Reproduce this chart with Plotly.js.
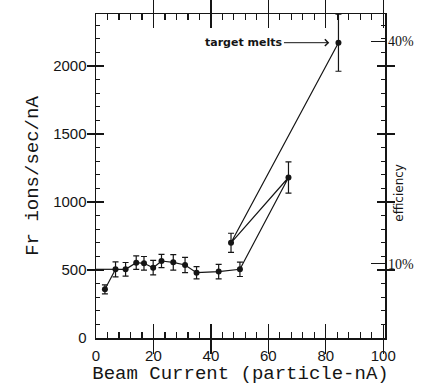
<!DOCTYPE html>
<html>
<head>
<meta charset="utf-8">
<script src="https://cdn.plot.ly/plotly-3.0.1.min.js"></script>
<style>html,body{margin:0;padding:0;background:#fff;}#chart{width:425px;height:391px;}</style>
</head>
<body>
<div id="chart"></div>
<script>
// Beam current (particle-nA), in the order the points are joined
const beamCurrent = [3.1, 6.8, 10.3, 14.0, 16.7, 19.9, 22.8, 26.9, 31.0, 35.0, 42.7, 50.1, 67.0, 47.0, 84.4];
// Fr ions/sec/nA
const frRate      = [358, 505, 505, 554, 549, 517, 566, 556, 537, 480, 488, 505, 1180, 700, 2171];
// error bar half-heights
const frError     = [33, 55, 50, 50, 50, 53, 49, 57, 56, 45, 53, 53, 115, 70, 210];
// short guide segment at the 500 level
const guideX = [0, 6.8];
const guideY = [505, 505];
// efficiency (right) axis
const effTicks = [10, 40];
const effLabels = ['10%', '40%'];

const ink = '#151515';
const xRange = [0, 100.6];
const yRange = [0, 2382];
const hidden = {type: 'scatter', mode: 'markers', marker: {opacity: 0}, hoverinfo: 'skip', showlegend: false};
const traces = [
  {x: guideX, y: guideY, type: 'scatter', mode: 'lines', line: {color: ink, width: 1.2}, hoverinfo: 'skip', showlegend: false},
  {x: beamCurrent, y: frRate, type: 'scatter', mode: 'lines+markers',
   line: {color: ink, width: 1.2}, marker: {color: ink, size: 6},
   error_y: {type: 'data', array: frError, visible: true, color: ink, thickness: 1.2, width: 3},
   showlegend: false},
  Object.assign({x: [0], y: [0], xaxis: 'x', yaxis: 'y2'}, hidden),
  Object.assign({x: [0], y: [0], xaxis: 'x2', yaxis: 'y'}, hidden),
  Object.assign({x: [0], y: [0], xaxis: 'x', yaxis: 'y3'}, hidden)
];

const tickFont = {family: 'Liberation Sans, Arial, sans-serif', size: 15, color: ink};
const titleFont = {family: 'Liberation Mono, Courier New, monospace', size: 19, color: ink};

const layout = {
  width: 425, height: 391,
  margin: {l: 96, r: 40, t: 14, b: 53},
  paper_bgcolor: '#fff', plot_bgcolor: '#fff',
  showlegend: false,
  xaxis: {
    range: xRange, showgrid: false, zeroline: false,
    showline: true, linecolor: ink, linewidth: 1.5, mirror: 'allticks',
    ticks: 'inside', tickmode: 'linear', tick0: 0, dtick: 20, ticklen: 14, tickwidth: 1.2, tickcolor: ink,
    tickfont: tickFont, ticklabelstandoff: 3,
    title: {text: 'Beam Current (particle-nA)', font: titleFont, standoff: 3}
  },
  xaxis2: {
    overlaying: 'x', anchor: 'y', side: 'bottom', range: xRange,
    showgrid: false, zeroline: false, showline: false, mirror: 'allticks',
    ticks: 'inside', tickmode: 'linear', tick0: 0, dtick: 4, ticklen: 6, tickwidth: 1.2, tickcolor: ink,
    showticklabels: false
  },
  yaxis: {
    range: yRange, showgrid: false, zeroline: false,
    showline: true, linecolor: ink, linewidth: 1.5, mirror: 'allticks',
    ticks: 'inside', tickmode: 'linear', tick0: 0, dtick: 500, ticklen: 8, tickwidth: 1.2, tickcolor: ink,
    tickfont: tickFont, ticklabelstandoff: 5,
    title: {text: 'Fr ions/sec/nA', font: titleFont, standoff: 9}
  },
  yaxis3: {
    overlaying: 'y', anchor: 'x', side: 'left', range: yRange,
    showgrid: false, zeroline: false, showline: false, mirror: 'allticks',
    ticks: 'inside', tickmode: 'linear', tick0: 0, dtick: 100, ticklen: 4, tickwidth: 1.2, tickcolor: ink,
    showticklabels: false
  },
  yaxis2: {
    overlaying: 'y', anchor: 'x', side: 'right', range: [0, yRange[1] / 54.5],
    showgrid: false, zeroline: false, showline: false,
    ticks: 'inside', tickmode: 'array', tickvals: effTicks, ticktext: effLabels, ticklen: 14, tickwidth: 1.2, tickcolor: ink,
    tickfont: {family: 'Liberation Serif, Times New Roman, serif', size: 14, color: ink},
    ticklabelstandoff: 2
  },
  annotations: [
    {text: 'efficiency', xref: 'paper', yref: 'paper', x: 1.05, y: 0.45, textangle: -90,
     showarrow: false, xanchor: 'center', yanchor: 'middle',
     font: {family: 'DejaVu Sans, sans-serif', size: 12, color: ink}},
    {text: '<b>target melts</b>', xref: 'x', yref: 'y', x: 81.2, y: 2171,
     axref: 'x', ayref: 'y', ax: 51.5, ay: 2171,
     showarrow: true, arrowhead: 4, arrowsize: 1.3, arrowwidth: 1, arrowcolor: ink,
     font: {family: 'DejaVu Sans, sans-serif', size: 11, color: ink}}
  ]
};

Plotly.newPlot('chart', traces, layout, {displayModeBar: false, staticPlot: true});
</script>
</body>
</html>
